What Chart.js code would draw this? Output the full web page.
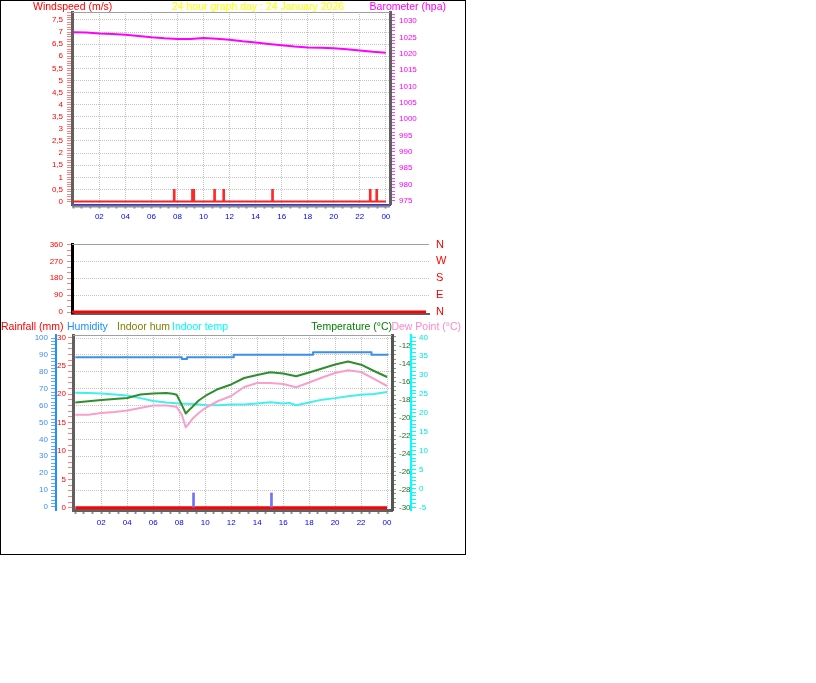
<!DOCTYPE html>
<html>
<head>
<meta charset="utf-8">
<title>24 hour graph day : 24 January 2026</title>
<script src="https://cdn.jsdelivr.net/npm/chart.js@4.4.1/dist/chart.umd.min.js"></script>
<style>
  body { margin: 0; background: #fff; }
  #wrap { position: relative; width: 466px; height: 555px; }
  #frame { position: absolute; left: 0; top: 0; width: 466px; height: 555px; box-sizing: border-box; border: 1px solid #000; }
  canvas { position: absolute; left: 0; }
  .lbl { position: absolute; font: 10.5px 'Liberation Sans', Arial, sans-serif; line-height: 12px; white-space: nowrap; }
</style>
</head>
<body>
<div id="wrap">
  <div id="frame"></div>
  <canvas id="windChart" width="466" height="230" style="top:0"></canvas>
  <canvas id="dirChart" width="466" height="100" style="top:230px"></canvas>
  <canvas id="tempChart" width="466" height="230" style="top:318px"></canvas>

  <div class="lbl" style="left:33px;top:0;color:#ff0000">Windspeed (m/s)</div>
  <div class="lbl" style="left:158px;width:200px;text-align:center;top:0;color:#ffff00">24 hour graph day : 24 January 2026</div>
  <div class="lbl" style="right:20px;top:0;color:#ff00ff">Barometer (hpa)</div>

  <div class="lbl" style="left:1px;top:320px;color:#ff0000">Rainfall (mm)</div>
  <div class="lbl" style="left:67px;top:320px;color:#1e90ff">Humidity</div>
  <div class="lbl" style="left:117px;top:320px;color:#808000">Indoor hum</div>
  <div class="lbl" style="left:172px;top:320px;color:#00ffff">Indoor temp</div>
  <div class="lbl" style="right:74px;top:320px;color:#008000">Temperature (°C)</div>
  <div class="lbl" style="right:5px;top:320px;color:#ff88cc">Dew Point (°C)</div>
</div>

<script>
// --- data (hours of the day 0..24) ---
const hours = [0, 1, 2, 3, 4, 5, 6, 7, 8, 9, 10, 11, 12, 13, 14, 15, 16, 17, 18, 19, 20, 21, 22, 23, 24];
const barometer = [1026.6, 1026.5, 1026.2, 1026.0, 1025.8, 1025.4, 1025.0, 1024.7, 1024.5, 1024.5, 1024.8, 1024.6,
                   1024.3, 1023.8, 1023.4, 1023.0, 1022.6, 1022.2, 1021.9, 1021.8, 1021.7, 1021.4, 1021.0, 1020.6, 1020.3];
const windSpeed = [0, 0, 0, 0, 0, 0, 0, 0, 0, 0, 0, 0, 0, 0, 0, 0, 0, 0, 0, 0, 0, 0, 0, 0, 0];
const gustTimes = [7.75, 9.15, 9.25, 10.85, 11.55, 15.3, 22.8, 23.3];
const gustValues = [0.5, 0.5, 0.5, 0.5, 0.5, 0.5, 0.5, 0.5];

const windDir = [0, 0, 0, 0, 0, 0, 0, 0, 0, 0, 0, 0, 0, 0, 0, 0, 0, 0, 0, 0, 0, 0, 0, 0, 0];
const dirLabels = { 0: 'N', 90: 'E', 180: 'S', 270: 'W', 360: 'N' };

const tempTimes = [0, 1, 2, 3, 4, 5, 6, 7, 7.5, 7.8, 8.2, 8.5, 8.8, 9, 9.5, 10, 11, 12, 13, 14, 15, 16, 17, 18, 19, 20, 21, 22, 23, 24];
const temperature = [-18.33, -18.2, -18.05, -17.94, -17.83, -17.44, -17.32, -17.27, -17.35, -17.46, -18.6, -19.55, -19.1, -18.83, -18.1,
                     -17.6, -16.82, -16.32, -15.6, -15.26, -14.96, -15.1, -15.41, -14.99, -14.54, -14.09, -13.76, -14.12, -14.82, -15.49];
const dewPoint = [-19.69, -19.69, -19.5, -19.39, -19.22, -18.94, -18.66, -18.66, -18.75, -18.83, -19.7, -21.1, -20.6, -20.17, -19.5,
                  -18.94, -18.16, -17.6, -16.6, -16.15, -16.15, -16.27, -16.63, -16.1, -15.54, -15.04, -14.74, -14.93, -15.7, -16.49];

const indoorTimes = [0, 1, 2, 3, 4, 5, 6, 7, 8, 9, 10, 11, 12, 13, 14, 15, 16, 16.5, 17, 18, 19, 20, 21, 22, 23, 24];
const indoorTemp = [25.3, 25.25, 25.1, 24.85, 24.6, 23.9, 23.15, 22.75, 22.45, 22.35, 22.1, 22.0, 22.2,
                    22.2, 22.5, 22.8, 22.45, 22.6, 22.0, 22.75, 23.5, 23.9, 24.4, 24.8, 25.0, 25.5];

const humTimes = [0, 8.2, 8.6, 12.2, 18.3, 22.8, 24.1];
const humidity = [88.6, 87.6, 88.6, 90.1, 91.5, 90.1, 90.1];

const rainfall = [0, 0, 0, 0, 0, 0, 0, 0, 0, 0, 0, 0, 0, 0, 0, 0, 0, 0, 0, 0, 0, 0, 0, 0, 0];
const rateTimes = [9.1, 15.1];
const rateValues = [2.6, 2.6];

// --- helpers ---
const FONT = "'Liberation Sans Narrow', 'Liberation Sans', Arial, sans-serif";
const tickFont = { family: FONT, size: 8 };
const NONE = 'rgba(0,0,0,0)';
const GRID = '#c4c4c4';

function pts(xs, ys) { return xs.map((x, i) => ({ x: x, y: ys[i] })); }
function isStep(v, step) { return Math.abs(v / step - Math.round(v / step)) < 1e-6; }
function evenHour(v) { const h = Math.round(v); return Math.abs(v - h) < 0.01 && h > 0 && h % 2 === 0; }
function hourLabel(v) { return evenHour(v) ? String(Math.round(v) % 24).padStart(2, '0') : ''; }

function hourAxis(min, max, height, borderColor, borderWidth) {
  return {
    type: 'linear', position: 'bottom', min: min, max: max, offset: false,
    afterFit: s => { s.height = height; },
    ticks: { stepSize: 2 / 3, autoSkip: false, includeBounds: false, maxRotation: 0, color: '#0000ff',
             font: tickFont, padding: 3.5, callback: hourLabel },
    grid: { offset: false, color: c => (c.tick && evenHour(c.tick.value)) ? GRID : NONE,
            tickColor: '#909090', tickLength: 4, tickWidth: 2 },
    border: { color: borderColor, width: borderWidth, dash: [1, 1] }
  };
}

function valueAxis(o) {
  return {
    type: 'linear', position: o.position, min: o.min, max: o.max, weight: o.weight || 0,
    afterFit: s => { s.width = o.width; },
    ticks: { stepSize: o.step, autoSkip: false, includeBounds: false, color: o.label, font: tickFont, padding: o.padding,
             callback: v => isStep(v, o.major) ? (o.fmt ? o.fmt(v) : String(Math.round(v * 100) / 100)) : '' },
    grid: { drawOnChartArea: !!o.grid,
            color: c => (o.grid && c.tick && isStep(c.tick.value, o.major) && o.grid(c.tick.value)) ? GRID : NONE,
            tickColor: c => (c.tick && c.tick.value < o.from - 1e-6) ? NONE : o.tick,
            tickLength: o.tickLength || 5, tickWidth: 1 },
    border: { color: o.border, width: o.borderWidth, dash: [1, 1] }
  };
}

// top line of each panel and shadow under the axis
const panelFrame = {
  id: 'panelFrame',
  afterDraw(chart, args, opts) {
    const { ctx, chartArea: a } = chart;
    ctx.save();
    ctx.strokeStyle = '#a0a0a0';
    ctx.lineWidth = 1;
    ctx.beginPath();
    ctx.moveTo(a.left, Math.round(a.top) + 0.5);
    ctx.lineTo(a.right, Math.round(a.top) + 0.5);
    ctx.stroke();
    if (opts.shadow) {
      ctx.strokeStyle = opts.shadow;
      ctx.lineWidth = 2;
      ctx.beginPath();
      ctx.moveTo(a.left, a.bottom + 2);
      ctx.lineTo(a.right, a.bottom + 2);
      ctx.stroke();
    }
    ctx.restore();
  }
};

const common = {
  responsive: false, animation: false, events: [],
  elements: { point: { radius: 0 }, line: { tension: 0, borderJoinStyle: 'round' } },
};

// 1. WIND + BAROMETER
new Chart(document.getElementById('windChart'), {
  type: 'line',
  data: {
    datasets: [
      { label: 'Barometer', data: pts(hours, barometer), yAxisID: 'yBaro', borderColor: '#ff00ff', borderWidth: 2, order: 1 },
      { label: 'Gust', type: 'bar', data: pts(gustTimes, gustValues), yAxisID: 'y', backgroundColor: '#ff2828',
        barThickness: 2, grouped: false, order: 2 },
      { label: 'Windspeed', data: pts(hours, windSpeed), yAxisID: 'y', borderColor: '#ff2020', borderWidth: 2, order: 3 }
    ]
  },
  options: Object.assign({}, common, {
    layout: { padding: { top: 12, bottom: 1.5, left: 0, right: 0 } },
    plugins: { legend: { display: false }, tooltip: { enabled: false }, panelFrame: { shadow: '#8c8c8c' } },
    scales: {
      x: hourAxis(-0.1, 24.32, 24, '#3838c8', 2),
      y: valueAxis({ position: 'left', min: -0.124, max: 7.83, width: 72, step: 0.1, major: 0.5, from: 0,
                     label: '#ff0000', tick: '#ff8080', padding: 4, border: '#606060', borderWidth: 3,
                     fmt: v => String(Math.round(v * 10) / 10).replace('.', ','), grid: v => v > 0.01 }),
      yBaro: valueAxis({ position: 'right', min: 973.93, max: 1032.75, width: 76, step: 1, major: 5, from: 975,
                         label: '#ff00ff', tick: '#ff40ff', padding: 4, border: '#606060', borderWidth: 3 })
    }
  }),
  plugins: [panelFrame]
});

// 2. WIND DIRECTION
new Chart(document.getElementById('dirChart'), {
  type: 'line',
  data: {
    datasets: [
      { label: 'Wind direction', data: pts(hours, windDir), borderColor: '#ff0000', borderWidth: 3 }
    ]
  },
  options: Object.assign({}, common, {
    layout: { padding: { top: 14, bottom: 16.5, left: 0, right: 0 } },
    plugins: { legend: { display: false }, tooltip: { enabled: false }, panelFrame: {} },
    scales: {
      x: { type: 'linear', min: 0, max: 24.2, offset: false, afterFit: s => { s.height = 0; },
           ticks: { display: false }, grid: { display: false }, border: { color: '#606060', width: 2 } },
      y: valueAxis({ position: 'left', min: -8, max: 362.7, width: 72, step: 30, major: 90, from: 0,
                     label: '#ff0000', tick: '#ff8080', padding: 4, border: '#000000', borderWidth: 3,
                     grid: v => v > 1 && v < 359 }),
      yDir: { type: 'linear', position: 'right', min: -8, max: 362.7, afterFit: s => { s.width = 37; },
              ticks: { stepSize: 90, autoSkip: false, includeBounds: false, color: '#ff0000', padding: 7,
                       font: { family: "'Liberation Sans', Arial, sans-serif", size: 11 },
                       callback: v => dirLabels[Math.round(v)] || '' },
              grid: { drawOnChartArea: false, drawTicks: false }, border: { display: false } }
    }
  }),
  plugins: [panelFrame]
});

// 3. RAIN / HUMIDITY / TEMPERATURE
new Chart(document.getElementById('tempChart'), {
  type: 'line',
  data: {
    datasets: [
      { label: 'Humidity', data: pts(humTimes, humidity), yAxisID: 'yHum', borderColor: '#3d8fe8', borderWidth: 2, stepped: true, order: 1 },
      { label: 'Temperature', data: pts(tempTimes, temperature), yAxisID: 'yTemp', borderColor: '#2f8f2f', borderWidth: 2, order: 2 },
      { label: 'Dew Point', data: pts(tempTimes, dewPoint), yAxisID: 'yTemp', borderColor: '#f7a0cb', borderWidth: 2, order: 3 },
      { label: 'Indoor temp', data: pts(indoorTimes, indoorTemp), yAxisID: 'yIn', borderColor: '#44eeee', borderWidth: 2, order: 4 },
      { label: 'Rain rate', type: 'bar', data: pts(rateTimes, rateValues), yAxisID: 'yRain', backgroundColor: '#7272f2',
        barThickness: 2, grouped: false, order: 5 },
      { label: 'Rainfall', data: pts(hours, rainfall), yAxisID: 'yRain', borderColor: '#ff0000', borderWidth: 3, order: 6 }
    ]
  },
  options: Object.assign({}, common, {
    layout: { padding: { top: 17, bottom: 8, left: 0, right: 0 } },
    plugins: { legend: { display: false }, tooltip: { enabled: false }, panelFrame: {} },
    scales: {
      x: hourAxis(-0.18, 24.38, 30, '#606060', 3),
      yRain: valueAxis({ position: 'left', weight: 0, min: -0.405, max: 30.44, width: 17, step: 1, major: 5, from: 0,
                         label: '#ff0000', tick: '#ff8080', padding: 2, border: '#606060', borderWidth: 3 }),
      yHum: valueAxis({ position: 'left', weight: 1, min: -1.78, max: 101.78, width: 56, step: 2, major: 10, from: 0,
                        label: '#3c8cff', tick: '#66aaff', padding: 3, border: '#1e90ff', borderWidth: 2,
                        grid: v => v > 1 }),
      yTemp: valueAxis({ position: 'right', weight: 0, min: -30.3, max: -10.81, width: 19, step: 0.5, major: 2, from: -30,
                         label: '#1f6f1f', tick: '#6aae6a', padding: 3, tickLength: 4, border: '#555555', borderWidth: 3 }),
      yIn: valueAxis({ position: 'right', weight: 1, min: -5.71, max: 40.61, width: 55, step: 1, major: 5, from: -5,
                       label: '#00e6e6', tick: '#00ffff', padding: 3, border: '#00ffff', borderWidth: 2 })
    }
  }),
  plugins: [panelFrame]
});
</script>
</body>
</html>
